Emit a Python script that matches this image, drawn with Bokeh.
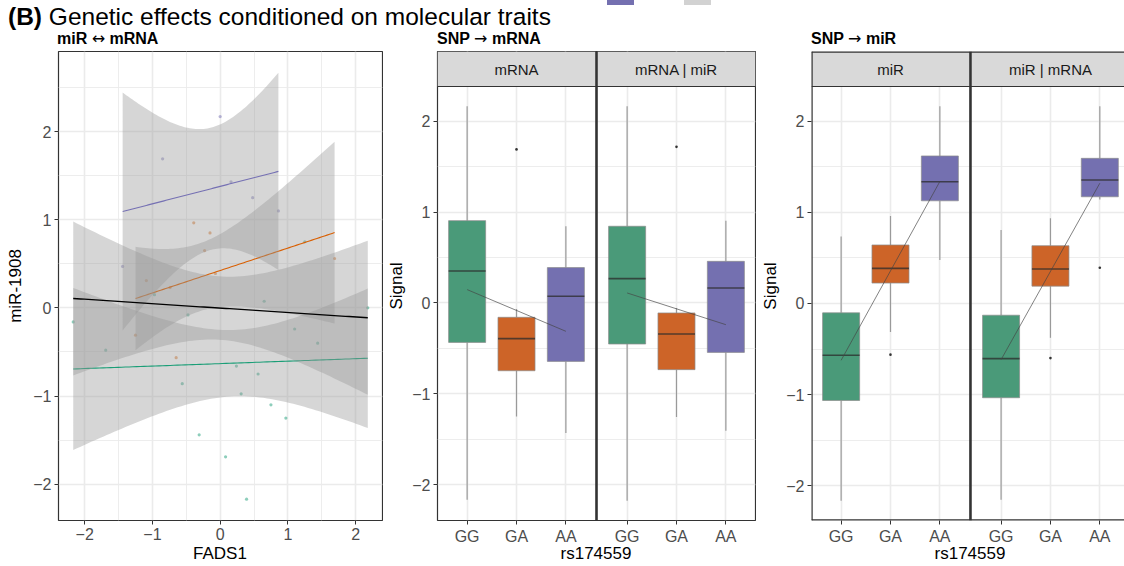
import numpy as np
from bokeh.plotting import figure
from bokeh.layouts import row, column
from bokeh.models import (Div, FixedTicker, BoxAnnotation, Span, Label,
                          CustomJSTickFormatter, Range1d)
from bokeh.embed import file_html
from bokeh.resources import INLINE

FONT = "Liberation Sans"

# ---------------- data: panel "miR <-> mRNA" (FADS1 vs miR-1908, by genotype) ----------------
genotypes = ["GG", "GA", "AA"]
gg_fads1 = [-2.17, -1.69, -0.97, -0.56, -0.475, -0.31, 0.08, 0.24, 0.31, 0.39, 0.56, 0.65, 0.75, 0.97, 1.10, 1.25, 1.44, 2.18]
gg_mir = [-0.16, -0.48, 0.15, -0.86, -0.08, -1.44, -1.69, -0.66, -0.975, -2.17, -0.75, 0.075, -1.10, -1.25, -0.24, 0.75, -0.40, 0.0]
ga_fads1 = [-1.25, -1.09, -0.74, -0.65, -0.39, -0.23, -0.15, -0.07, 1.69]
ga_mir = [-0.31, 0.31, 0.23, -0.565, 0.965, 0.65, 0.85, 0.39, 0.56]
aa_fads1 = [-1.44, -0.85, 0.0, 0.16, 0.48, 0.86]
aa_mir = [0.47, 1.69, 2.17, 1.43, 1.25, 1.10]

# ---------------- data: box plots (per genotype GG, GA, AA) ----------------
mrna_lower = [-2.166, -1.249, -1.432]
mrna_q1 = [-0.434, -0.746, -0.643]
mrna_median = [0.352, -0.393, 0.073]
mrna_q3 = [0.906, -0.158, 0.389]
mrna_upper = [2.165, -0.066, 0.844]
mrna_out_geno = ["GA"]
mrna_out_val = [1.69]
mrna_trend = [0.147, -0.312]          # fitted value at GG and at AA

mrna_c_lower = [-2.177, -1.256, -1.406]
mrna_c_q1 = [-0.452, -0.734, -0.544]
mrna_c_median = [0.268, -0.341, 0.165]
mrna_c_q3 = [0.844, -0.110, 0.458]
mrna_c_upper = [2.165, -0.055, 0.906]
mrna_c_out_geno = ["GA"]
mrna_c_out_val = [1.718]
mrna_c_trend = [0.110, -0.239]

mir_lower = [-2.166, -0.312, 0.477]
mir_q1 = [-1.065, 0.224, 1.127]
mir_median = [-0.569, 0.385, 1.336]
mir_q3 = [-0.103, 0.642, 1.619]
mir_upper = [0.734, 0.961, 2.165]
mir_out_geno = ["GA"]
mir_out_val = [-0.562]
mir_trend = [-0.624, 1.339]

mir_c_lower = [-2.155, -0.377, 1.140]
mir_c_q1 = [-1.035, 0.190, 1.171]
mir_c_median = [-0.606, 0.378, 1.355]
mir_c_q3 = [-0.129, 0.634, 1.593]
mir_c_upper = [0.807, 0.936, 2.165]
mir_c_out_geno = ["GA", "AA"]
mir_c_out_val = [-0.600, 0.392]
mir_c_trend = [-0.617, 1.320]

y_ticks = [-2, -1, 0, 1, 2]
x_ticks_a = [-2, -1, 0, 1, 2]

# ---------------- styling ----------------
GEN_COL = {"GG": "#4A9A79", "GA": "#CD6428", "AA": "#7470B0"}
LINE_COL = {"GG": "#1B9E77", "GA": "#D95F02", "AA": "#7570B3"}
BORDER = "#333333"
TICK_COL = "#4d4d4d"
GRID = "#ebebeb"
T975 = {4: 2.776445, 7: 2.364624, 8: 2.306004, 15: 2.131450, 16: 2.119905, 31: 2.039513}


def minus(v):
    return ("\u2212" + str(abs(v))) if v < 0 else str(v)


def style(p):
    p.background_fill_color = "white"
    p.border_fill_alpha = 0.0
    for ax in p.axis:
        ax.axis_line_color = None
        ax.major_tick_line_color = BORDER
        ax.major_tick_out = 4
        ax.major_tick_in = 0
        ax.minor_tick_line_color = None
        ax.major_label_text_font = FONT
        ax.major_label_text_font_size = "16px"
        ax.major_label_text_color = TICK_COL
        ax.major_label_standoff = 3
        ax.axis_label_text_font = FONT
        ax.axis_label_text_font_size = "17px"
        ax.axis_label_text_font_style = "normal"
        ax.axis_label_text_color = "black"
    for g in p.grid:
        g.grid_line_color = GRID
        g.grid_line_width = 1.6
        g.minor_grid_line_color = GRID
        g.minor_grid_line_width = 0.9


def lm_band(x, y, n_grid=80):
    x = np.asarray(x, float)
    y = np.asarray(y, float)
    n = len(x)
    xm, ym = x.mean(), y.mean()
    sxx = ((x - xm) ** 2).sum()
    b = ((x - xm) * (y - ym)).sum() / sxx
    a = ym - b * xm
    s = np.sqrt(((y - a - b * x) ** 2).sum() / (n - 2))
    xs = np.linspace(x.min(), x.max(), n_grid)
    fit = a + b * xs
    se = s * np.sqrt(1.0 / n + (xs - xm) ** 2 / sxx)
    t = T975[n - 2]
    return xs, fit, fit - t * se, fit + t * se


# ---------------- Panel A ----------------
groups = {"GG": (gg_fads1, gg_mir), "GA": (ga_fads1, ga_mir), "AA": (aa_fads1, aa_mir)}
all_x = gg_fads1 + ga_fads1 + aa_fads1
all_y = gg_mir + ga_mir + aa_mir
fits = {g: lm_band(*groups[g]) for g in genotypes}
fit_all = lm_band(all_x, all_y)

ys_all = list(all_y)
for f in list(fits.values()) + [fit_all]:
    ys_all += list(f[2]) + list(f[3])
xlo, xhi = min(all_x), max(all_x)
ylo, yhi = min(ys_all), max(ys_all)
xp, yp = 0.05 * (xhi - xlo), 0.05 * (yhi - ylo)

HEAD_H = 40
FIG_H = 566 - HEAD_H
TOP_A = 50 - HEAD_H
TOP_BOX = 51 - HEAD_H
BOTTOM = 46

pA = figure(width=383, height=FIG_H, x_range=Range1d(xlo - xp, xhi + xp),
            y_range=Range1d(ylo - yp, yhi + yp),
            min_border_left=58, min_border_right=1, min_border_top=TOP_A, min_border_bottom=BOTTOM,
            output_backend="svg", toolbar_location=None, title=None)
pA.xaxis.ticker = FixedTicker(ticks=x_ticks_a, minor_ticks=[-2.5, -1.5, -0.5, 0.5, 1.5, 2.5])
pA.yaxis.ticker = FixedTicker(ticks=y_ticks, minor_ticks=[-2.5, -1.5, -0.5, 0.5, 1.5, 2.5])
pA.xaxis.major_label_overrides = {v: minus(v) for v in x_ticks_a}
pA.yaxis.major_label_overrides = {v: minus(v) for v in y_ticks}
pA.yaxis.axis_label = "miR-1908"
style(pA)
pA.yaxis.axis_label_standoff = 5
pA.outline_line_color = BORDER
pA.outline_line_width = 1.2

for g in genotypes:
    gx, gy = groups[g]
    pA.scatter(gx, gy, size=3.2, color=LINE_COL[g], alpha=0.5, line_width=0)
for g in genotypes:
    xs, fit, lo, hi = fits[g]
    pA.varea(x=xs, y1=lo, y2=hi, fill_color="#999999", fill_alpha=0.4)
    pA.line(xs, fit, line_color=LINE_COL[g], line_width=1.1)
xs, fit, lo, hi = fit_all
pA.varea(x=xs, y1=lo, y2=hi, fill_color="#999999", fill_alpha=0.4)
pA.line(xs, fit, line_color="black", line_width=1.3)

# ---------------- Box panels ----------------
STEP = 3.24
FRAME_H = FIG_H - TOP_BOX - BOTTOM
STRIP_PX = 35


def box_panel(width, border_left, x_end, facet_names, facets, closed_right):
    vals = []
    for f in facets:
        vals += f["lower"] + f["upper"] + f["out_val"]
    d0, d1 = min(vals), max(vals)
    pad = 0.05 * (d1 - d0)
    y0, y1 = d0 - pad, d1 + pad
    strip = (y1 - y0) / (FRAME_H - STRIP_PX) * STRIP_PX
    ytop = y1 + strip
    p = figure(width=width, height=FIG_H, x_range=Range1d(0.4, x_end), y_range=Range1d(y0, ytop),
               min_border_left=border_left, min_border_right=1 if closed_right else 0,
               min_border_top=TOP_BOX, min_border_bottom=BOTTOM,
               output_backend="svg", toolbar_location=None, title=None)
    xt = []
    for k in range(len(facet_names)):
        xt += [1 + k * STEP, 2 + k * STEP, 3 + k * STEP]
    p.xaxis.ticker = FixedTicker(ticks=xt)
    p.xaxis.formatter = CustomJSTickFormatter(code="return ['GG','GA','AA'][index % 3];")
    p.yaxis.ticker = FixedTicker(ticks=y_ticks, minor_ticks=[-1.5, -0.5, 0.5, 1.5])
    p.yaxis.major_label_overrides = {v: minus(v) for v in y_ticks}
    p.yaxis.axis_label = "Signal"
    style(p)
    p.yaxis.axis_label_standoff = 3
    p.xgrid.minor_grid_line_color = None
    if closed_right:
        p.outline_line_color = BORDER
        p.outline_line_width = 1.2
    else:
        p.outline_line_color = None

    hw = 0.75 / 2
    for k, f in enumerate(facets):
        xs = [1 + k * STEP, 2 + k * STEP, 3 + k * STEP]
        cols = [GEN_COL[g] for g in genotypes]
        p.segment(xs, f["q3"], xs, f["upper"], line_color="#9a9a9a", line_width=1.2)
        p.segment(xs, f["q1"], xs, f["lower"], line_color="#9a9a9a", line_width=1.2)
        p.vbar(x=xs, width=0.75, bottom=f["q1"], top=f["q3"], fill_color=cols,
               line_color="#8c8c8c", line_alpha=0.7, line_width=1)
        p.segment([x - hw for x in xs], f["median"], [x + hw for x in xs], f["median"],
                  line_color="#2b2b2b", line_alpha=0.75, line_width=1.6)
        ox = [xs[genotypes.index(g)] for g in f["out_geno"]]
        p.scatter(ox, f["out_val"], size=2.6, color="#333333", line_width=0)
        p.line([xs[0], xs[2]], f["trend"], line_color="#444444", line_alpha=0.75, line_width=0.9)

    for k, name in enumerate(facet_names):
        p.add_layout(BoxAnnotation(left=0.4 + k * STEP, right=3.6 + k * STEP, bottom=y1, top=ytop,
                                   fill_color="#d9d9d9", fill_alpha=1.0, line_color=None))
    p.add_layout(Span(location=y1, dimension="width", line_color=BORDER, line_width=1.2))
    for k in range(1, len(facet_names)):
        p.add_layout(Span(location=3.62 + (k - 1) * STEP, dimension="height",
                          line_color=BORDER, line_width=2.6))
    if not closed_right:
        p.add_layout(Span(location=0.4, dimension="height", line_color=BORDER, line_width=2.4))
        p.add_layout(Span(location=y0, dimension="width", line_color=BORDER, line_width=2.4))
        p.add_layout(Span(location=ytop, dimension="width", line_color=BORDER, line_width=2.4))
    for k, name in enumerate(facet_names):
        p.add_layout(Label(x=2 + k * STEP, y=y1 + strip / 2, text=name, text_align="center",
                           text_baseline="middle", text_font=FONT, text_font_size="15px",
                           text_color="#1a1a1a"))
    return p


def facet(lower, q1, median, q3, upper, out_geno, out_val, trend):
    return dict(lower=lower, q1=q1, median=median, q3=q3, upper=upper,
                out_geno=out_geno, out_val=out_val, trend=trend)


pB = box_panel(373, 54, 6.84, ["mRNA", "mRNA | miR"],
               [facet(mrna_lower, mrna_q1, mrna_median, mrna_q3, mrna_upper,
                      mrna_out_geno, mrna_out_val, mrna_trend),
                facet(mrna_c_lower, mrna_c_q1, mrna_c_median, mrna_c_q3, mrna_c_upper,
                      mrna_c_out_geno, mrna_c_out_val, mrna_c_trend)], True)
pC = box_panel(368, 55, 6.74, ["miR", "miR | mRNA"],
               [facet(mir_lower, mir_q1, mir_median, mir_q3, mir_upper,
                      mir_out_geno, mir_out_val, mir_trend),
                facet(mir_c_lower, mir_c_q1, mir_c_median, mir_c_q3, mir_c_upper,
                      mir_c_out_geno, mir_c_out_val, mir_c_trend)], False)

# ---------------- overlay text: title, panel titles and x-axis titles ----------------
ARW = "font-family:'DejaVu Sans',sans-serif;font-weight:normal;"
SUB = "position:absolute;top:30px;font-size:16px;font-weight:bold;line-height:17px;white-space:nowrap;"
XT = "position:absolute;top:544px;width:200px;text-align:center;font-size:17px;line-height:20px;white-space:nowrap;"
header_html = f"""
<div style="position:relative;width:1124px;height:{HEAD_H}px;overflow:visible;
            font-family:'Liberation Sans',Arial,sans-serif;color:#000;">
  <div style="position:absolute;left:607px;top:0px;width:27px;height:5px;background:#7470b0;"></div>
  <div style="position:absolute;left:684px;top:0px;width:27px;height:5px;background:#d2d2d2;"></div>
  <div style="position:absolute;left:8px;top:3px;font-size:24.5px;line-height:28px;white-space:nowrap;"><b>(B)</b> Genetic effects conditioned on molecular traits</div>
  <div style="{SUB}left:57px;">miR <span style="{ARW}">\u2194</span> mRNA</div>
  <div style="{SUB}left:437px;">SNP <span style="{ARW}">\u2192</span> mRNA</div>
  <div style="{SUB}left:811px;">SNP <span style="{ARW}">\u2192</span> miR</div>
  <div style="{XT}left:120px;">FADS1</div>
  <div style="{XT}left:496px;">rs174559</div>
  <div style="{XT}left:870px;">rs174559</div>
</div>
"""
header = Div(text=header_html, width=1124, height=HEAD_H, margin=(0, 0, 0, 0),
             styles={"overflow": "visible", "z-index": "5"})

layout = column(header, row(pA, pB, pC, spacing=0), spacing=0)

with open("out.html", "w") as fh:
    fh.write(file_html(layout, INLINE, title="Genetic effects conditioned on molecular traits"))
